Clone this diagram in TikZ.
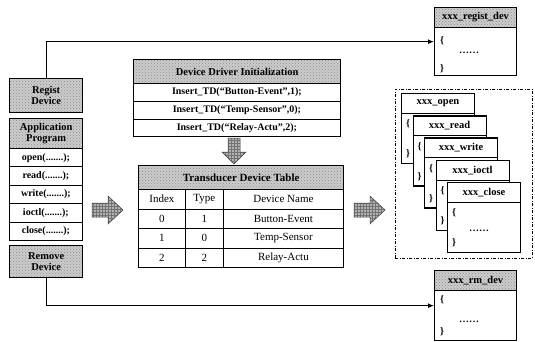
\documentclass[tikz,border=0pt]{standalone}
\usepackage{fontspec}
\setmainfont{Liberation Serif}
\usetikzlibrary{patterns,arrows.meta}
\begin{document}
\begin{tikzpicture}[x=1pt,y=-1pt,
  box/.style={draw,line width=1.3pt,inner sep=0pt,anchor=north west},
  shade/.style={preaction={fill=gray!40},pattern=crosshatch dots,pattern color=gray!90},
  bf/.style={font=\bfseries\fontsize{10}{11}\selectfont},
  hf/.style={font=\bfseries\fontsize{10.5}{11.5}\selectfont},
  hdr/.style={box,shade,hf,align=center},
  cell/.style={draw,line width=0.8pt,inner sep=0pt,anchor=north west},
  tcell/.style={cell,font=\fontsize{11}{13}\selectfont},
  fat/.style={draw=black!75,line width=0.5pt,preaction={fill=gray!60},pattern=grid,pattern color=black!55},
  link/.style={line width=1.3pt,-{Latex[length=6pt,width=5pt]}},
  txt/.style={inner sep=0pt,bf},
  arow/.style={cell,bf,minimum width=73pt,minimum height=18.4pt},
]
\useasboundingbox (0,0) rectangle (535,341);

% ---- left column: application side ----
\node[hdr,minimum width=73pt,minimum height=34pt] (regist) at (9,78) {Regist\\Device};
\node[hdr,minimum width=73pt,minimum height=30pt] (apphdr) at (9,118) {Application\\Program};
\node[arow] (app1) at (9,148)   {open(.......);};
\node[arow] (app2) at (9,166.4) {read(.......);};
\node[arow] (app3) at (9,184.8) {write(.......);};
\node[arow] (app4) at (9,203.2) {ioctl(.......);};
\node[arow] (app5) at (9,221.6) {close(.......);};
\node[box,minimum width=73pt,minimum height=122pt] (app) at (9,118) {};
\node[hdr,minimum width=73pt,minimum height=32pt] (remove) at (9,245) {Remove\\Device};

% ---- driver initialization ----
\node[hdr,minimum width=207pt,minimum height=24pt] (ddi) at (133,59) {Device Driver Initialization};
\node[cell,bf,minimum width=207pt,minimum height=18pt] (ins1) at (133,83) {Insert\_TD(``Button-Event'',1);};
\node[cell,bf,minimum width=207pt,minimum height=18pt] (ins2) at (133,101) {Insert\_TD(``Temp-Sensor'',0);};
\node[cell,bf,minimum width=207pt,minimum height=17pt] (ins3) at (133,119) {Insert\_TD(``Relay-Actu'',2);};
\node[box,minimum width=207pt,minimum height=77pt] (ddibox) at (133,59) {};

% fat arrow down
\draw[fat] (228,138) -- (240,138) -- (240,152) -- (246,152) -- (234,164) -- (222,152) -- (228,152) -- cycle;

% ---- transducer device table ----
\node[hdr,font=\bfseries\fontsize{11}{13}\selectfont,minimum width=205pt,minimum height=24pt] (tdt) at (138,165) {Transducer Device Table};
\foreach \a/\b/\c [count=\r] in {Index/Type/Device Name,0/1/Button-Event,1/0/Temp-Sensor,2/2/Relay-Actu}{
  \node[tcell,minimum width=47pt,minimum height=19.5pt] (ci\r) at (138,{189+(\r-1)*19.5}) {\a};
  \node[tcell,minimum width=38pt,minimum height=19.5pt] (ct\r) at (185,{189+(\r-1)*19.5}) {\b};
  \node[tcell,minimum width=120pt,minimum height=19.5pt] (cn\r) at (223,{189+(\r-1)*19.5}) {\c};
}
\node[box,minimum width=205pt,minimum height=102pt] (tdtbox) at (138,165) {};

% fat arrows to the right
\draw[fat] (92,203) -- (108,203) -- (108,196) -- (123,210) -- (108,224) -- (108,217) -- (92,217) -- cycle;
\draw[fat] (354,203) -- (370,203) -- (370,196) -- (385,210) -- (370,224) -- (370,217) -- (354,217) -- cycle;

% ---- driver function stack ----
\node[draw,line width=0.7pt,dash pattern=on 3pt off 1.5pt on 1pt off 1.5pt,inner sep=0pt,anchor=north west,minimum width=137pt,minimum height=169pt] (ops) at (395,89) {};
\foreach \n [count=\k] in {open,read,write,ioctl,close}{
  \pgfmathsetmacro\xx{401+(\k-1)*11.5}
  \pgfmathsetmacro\yy{93+(\k-1)*22.2}
  \node[box,fill=white,minimum width=73pt,minimum height=70pt] (f\k) at (\xx,\yy) {};
  \node[cell,line width=1pt,hf,minimum width=73pt,minimum height=20pt] (fh\k) at (\xx,\yy) {xxx\_\n};
  \node[txt,anchor=west] (fo\k) at ({\xx+5},{\yy+31}) {\{};
  \node[txt] (fd\k) at ({\xx+32},{\yy+49}) {\ldots\ldots};
  \node[txt,anchor=west] (fc\k) at ({\xx+5},{\yy+61}) {\}};
}

% ---- register / remove entry points ----
\node[box,fill=white,minimum width=82pt,minimum height=68pt] (rdev) at (434,7) {};
\node[hdr,line width=1pt,minimum width=82pt,minimum height=20pt] (rdevh) at (434,7) {xxx\_regist\_dev};
\node[txt,anchor=west] (rdo) at (440,41) {\{};
\node[txt] (rdd) at (469,53) {\ldots\ldots};
\node[txt,anchor=west] (rdc) at (440,69) {\}};

\node[box,fill=white,minimum width=82pt,minimum height=70pt] (mdev) at (434,270) {};
\node[hdr,line width=1pt,minimum width=82pt,minimum height=20pt] (mdevh) at (434,270) {xxx\_rm\_dev};
\node[txt,anchor=west] (mdo) at (440,300) {\{};
\node[txt] (mdd) at (469,322) {\ldots\ldots};
\node[txt,anchor=west] (mdc) at (440,332) {\}};

% connectors
\draw[link] (regist.north) |- (rdev.west);
\draw[link] (remove.south) |- (mdev.west);
\end{tikzpicture}
\end{document}
